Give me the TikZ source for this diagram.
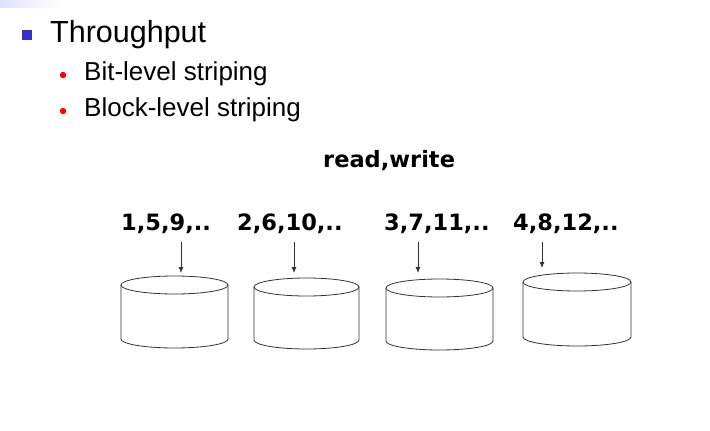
\documentclass[tikz,border=0pt]{standalone}
\usepackage{fontspec}
\setmainfont{Liberation Sans}
\newfontfamily\labelfont{DejaVu Sans}
\usetikzlibrary{arrows.meta}
\definecolor{sqblue}{HTML}{3333CC}
\definecolor{bulred}{HTML}{FF0000}
\tikzset{
  disk/.style={draw=black!80, line width=0.8pt},
  lab/.style={font=\labelfont\bfseries\fontsize{22.5}{24}\selectfont, inner sep=0pt, anchor=base west},
  feed/.style={draw=black!80, line width=0.8pt, -{Latex[length=6pt,width=5pt]}},
  bulletitem/.style={font=\fontsize{26}{28}\selectfont, inner sep=0pt, anchor=base west},
}
\newcommand{\diskdraw}[5]{% name, xl, xr, ytop-center, ybottom-center
  \path[disk] (#2,#4) -- (#2,#5) arc[start angle=180,end angle=0,x radius={(#3-#2)/2},y radius=9] -- (#3,#4);
  \draw[disk] ({(#2+#3)/2},#4) ellipse[x radius={(#3-#2)/2},y radius=9];
  \coordinate (#1) at ({(#2+#3)/2},{#4-9});
}
\begin{document}
\begin{tikzpicture}[x=1pt,y=-1pt]
\useasboundingbox (0,0) rectangle (710,431);
\shade[left color=blue!12, right color=white] (0,0) rectangle (60,7);
% title and bullets
\fill[sqblue] (22,30) rectangle (32,40);
\node[font=\fontsize{30.5}{32}\selectfont, inner sep=0pt, anchor=base west] (title) at (50,42) {Throughput};
\fill[bulred] (63,75) circle (3.2);
\node[bulletitem] (b1) at (84,80) {Bit-level striping};
\fill[bulred] (63,111) circle (3.2);
\node[bulletitem] (b2) at (84,116) {Block-level striping};
% labels
\node[lab] (rw) at (323,167) {read,write};
\node[lab] (l1) at (121,230) {1,5,9,..};
\node[lab] (l2) at (237,230) {2,6,10,..};
\node[lab] (l3) at (384,230) {3,7,11,..};
\node[lab] (l4) at (513,230) {4,8,12,..};
% disks
\diskdraw{d1}{121}{228}{285}{339}
\diskdraw{d2}{254}{359}{287}{340}
\diskdraw{d3}{386}{493}{288}{341}
\diskdraw{d4}{523}{631}{282}{337}
% arrow starts
\coordinate (s1) at (181,242);
\coordinate (s2) at (294,242);
\coordinate (s3) at (418,242);
\coordinate (s4) at (542,242);
\draw[feed] (s1) -- (181,273);
\draw[feed] (s2) -- (294,273);
\draw[feed] (s3) -- (418,273);
\draw[feed] (s4) -- (542,268);
\end{tikzpicture}
\end{document}
